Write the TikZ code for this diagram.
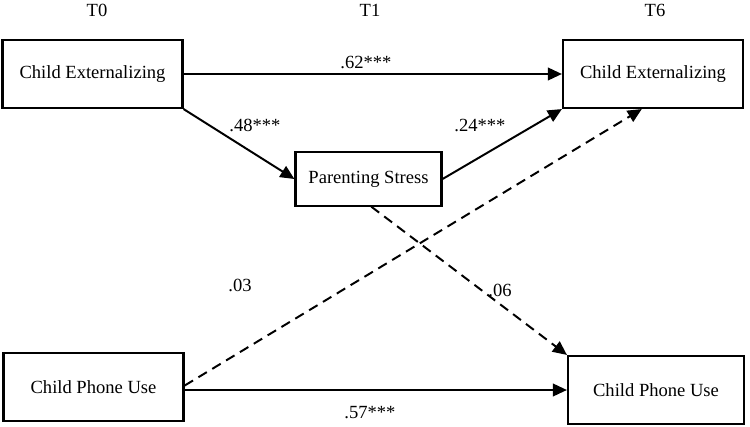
\documentclass[tikz,border=0pt]{standalone}
\usepackage{fontspec}
\setmainfont{Liberation Serif}
\usepackage{tikz}
\usetikzlibrary{arrows.meta,positioning}

\begin{document}
\begin{tikzpicture}[x=0.025cm,y=-0.025cm,font=\fontsize{13.2}{15}\selectfont,
  var/.style={draw,line width=1.5pt,minimum width=4.5cm,minimum height=1.7cm,inner sep=2pt},
  path/.style={line width=1.4pt,-{Triangle[length=10pt,width=9pt]}},
  nopath/.style={path,dash pattern=on 7pt off 4.5pt},
  lab/.style={inner sep=1pt}]
\useasboundingbox (0,0) rectangle (750,427);
% waves
\node (t0) at (97,10) {T0};
\node (t1) at (370,10) {T1};
\node (t6) at (655,10) {T6};
% variables
\node[var] (ext0) at (92.5,74) {Child Externalizing};
\node[var] (ext6) at (653,74) {Child Externalizing};
\node[var,minimum width=3.65cm,minimum height=1.33cm] (stress) at (368.5,179) {Parenting Stress};
\node[var] (phone0) at (93.5,387) {Child Phone Use};
\node[var,minimum width=4.4cm] (phone6) at (656,390) {Child Phone Use};
% paths
\draw[path] (ext0.east) -- (ext6.west);
\draw[path] (ext0.south east) -- (stress.west);
\draw[path] (stress.east) -- (ext6.south west);
\draw[nopath] ([xshift=2pt]stress.south) -- (phone6.north west);
\draw[nopath] ([yshift=1pt]phone0.east) -- ([xshift=-0.28cm]ext6.south);
\draw[path] (phone0.east |- phone6.west) -- (phone6.west);
% estimates
\node[lab] (b1) at (366,62) {.62***};
\node[lab] (b2) at (255,125) {.48***};
\node[lab] (b3) at (480,125) {.24***};
\node[lab] (b4) at (240,285) {.03};
\node[lab] (b5) at (500,290) {.06};
\node[lab] (b6) at (370,413) {.57***};
\end{tikzpicture}
\end{document}
